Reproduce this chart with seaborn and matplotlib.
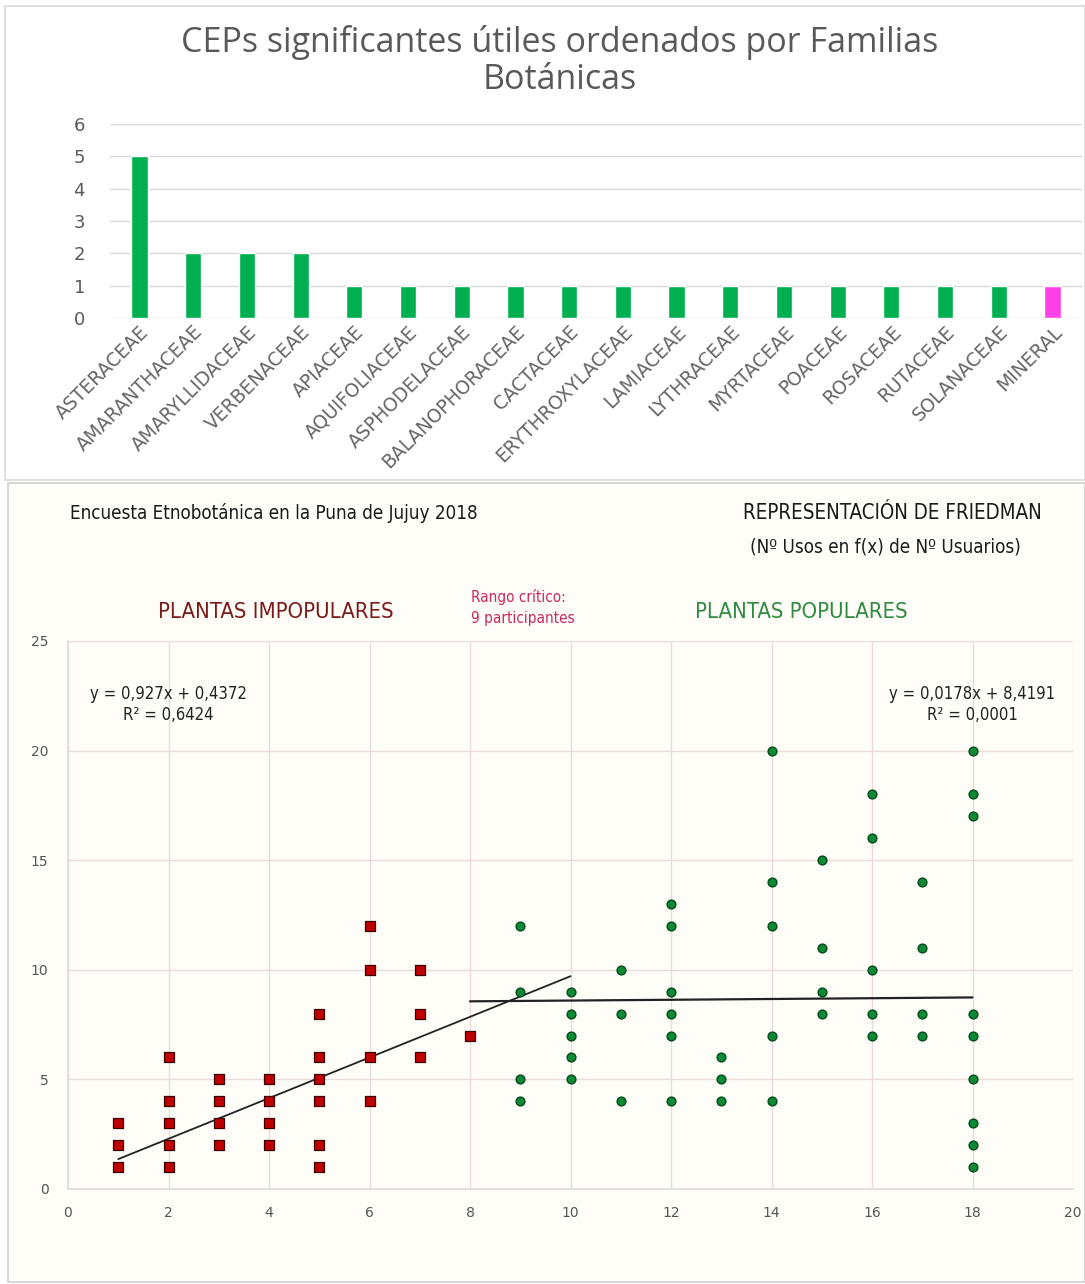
import matplotlib
matplotlib.use("Agg")
import matplotlib.pyplot as plt
import seaborn as sns
import numpy as np
import pandas as pd
from matplotlib.patches import Rectangle

# ---- bar chart data ----
familias = ["ASTERACEAE", "AMARANTHACEAE", "AMARYLLIDACEAE", "VERBENACEAE", "APIACEAE",
            "AQUIFOLIACEAE", "ASPHODELACEAE", "BALANOPHORACEAE", "CACTACEAE",
            "ERYTHROXYLACEAE", "LAMIACEAE", "LYTHRACEAE", "MYRTACEAE", "POACEAE",
            "ROSACEAE", "RUTACEAE", "SOLANACEAE", "MINERAL"]
ceps = [5, 2, 2, 2, 1, 1, 1, 1, 1, 1, 1, 1, 1, 1, 1, 1, 1, 1]
tipo = ["planta"] * 17 + ["mineral"]

# ---- Friedman scatter data (x = Nº usuarios, y = Nº usos) ----
imp_x = [1, 1, 1, 2, 2, 2, 2, 2, 3, 3, 3, 3, 4, 4, 4, 4,
         5, 5, 5, 5, 5, 5, 6, 6, 6, 6, 7, 7, 7, 8]
imp_y = [1, 2, 3, 1, 2, 3, 4, 6, 2, 3, 4, 5, 2, 3, 4, 5,
         1, 2, 4, 5, 6, 8, 4, 6, 10, 12, 6, 8, 10, 7]
pop_x = [9, 9, 9, 9, 10, 10, 10, 10, 10, 11, 11, 11, 12, 12, 12, 12, 12, 12,
         13, 13, 13, 14, 14, 14, 14, 14, 15, 15, 15, 15, 16, 16, 16, 16, 16,
         17, 17, 17, 17, 18, 18, 18, 18, 18, 18, 18, 18, 18]
pop_y = [4, 5, 9, 12, 5, 6, 7, 8, 9, 4, 8, 10, 4, 7, 8, 9, 12, 13,
         4, 5, 6, 4, 7, 12, 14, 20, 8, 9, 11, 15, 7, 8, 10, 16, 18,
         7, 8, 11, 14, 1, 2, 3, 5, 7, 8, 17, 18, 20]

# trend lines as printed on the chart
imp_fit = (0.927, 0.4372, 0.6424)
pop_fit = (0.0178, 8.4191, 0.0001)
imp_range = [1, 10]
pop_range = [8, 18]

sns.set_theme(style="white")
plt.rcParams["font.family"] = ["DejaVu Sans"]

W, H = 1085, 1284
fig = plt.figure(figsize=(W / 100, H / 100), dpi=100)
fig.patch.set_facecolor("white")


def box(l, t, r, b):
    return [l / W, 1 - b / H, (r - l) / W, (b - t) / H]


# panel frames (behind the axes)
fig.patches.append(Rectangle((5 / W, 1 - 480 / H), 1080 / W, 474 / H, transform=fig.transFigure,
                             facecolor="white", edgecolor="#d9d9d9", lw=1.2, zorder=-5))
fig.patches.append(Rectangle((8 / W, 1 - 1282 / H), 1077 / W, 799 / H, transform=fig.transFigure,
                             facecolor="#fffdf8", edgecolor="#d0d0d0", lw=1.2, zorder=-5))

# ---------------- top: bar chart ----------------
ax1 = fig.add_axes(box(110, 124, 1082, 318))
ax1.set_facecolor("none")
df_bar = pd.DataFrame({"familia": familias, "ceps": ceps, "tipo": tipo})
sns.barplot(data=df_bar, x="familia", y="ceps", hue="tipo",
            palette={"planta": "#00b050", "mineral": "#ff40e6"}, saturation=1,
            width=0.3, dodge=False, legend=False, ax=ax1, zorder=3)
ax1.set_ylim(0, 6)
ax1.set_xlim(-0.55, len(familias) - 0.45)
ax1.set_yticks(range(0, 7))
ax1.yaxis.grid(True, color="#d9d9d9", lw=1)
ax1.set_axisbelow(True)
for s in ax1.spines.values():
    s.set_visible(False)
ax1.set_xlabel("")
ax1.set_ylabel("")
ax1.tick_params(axis="y", labelsize=13, colors="#595959", pad=18, length=0)
ax1.tick_params(axis="x", length=0, pad=3)
ax1.set_xticks(range(len(familias)))
ax1.set_xticklabels(familias, rotation=45, ha="right", rotation_mode="anchor",
                    fontsize=13.5, color="#666666")
fig.text(560 / W, 1 - 42 / H, "CEPs significantes útiles ordenados por Familias",
         ha="center", va="center", fontsize=24.5, color="#595959", family="Open Sans")
fig.text(560 / W, 1 - 80 / H, "Botánicas",
         ha="center", va="center", fontsize=24.5, color="#595959", family="Open Sans")

# ---------------- bottom: Friedman scatter ----------------
ax2 = fig.add_axes(box(68, 641, 1073, 1189))
ax2.set_facecolor("#fffdf8")
sns.scatterplot(x=imp_x, y=imp_y, marker="s", s=52, color="#c00000",
                edgecolor="#3a0000", linewidth=0.9, ax=ax2, zorder=4)
sns.scatterplot(x=pop_x, y=pop_y, marker="o", s=40, color="#0b8a35",
                edgecolor="#064a1a", linewidth=1.0, ax=ax2, zorder=4)

xi = np.array(imp_range, dtype=float)
ax2.plot(xi, imp_fit[0] * xi + imp_fit[1], color="#222222", lw=1.3, zorder=3)
xp = np.array(pop_range, dtype=float)
ax2.plot(xp, pop_fit[0] * xp + pop_fit[1], color="#222222", lw=1.6, zorder=3)

ax2.set_xlim(0, 20)
ax2.set_ylim(0, 25)
ax2.set_xticks(range(0, 21, 2))
ax2.set_yticks(range(0, 26, 5))
ax2.grid(True, color="#eadada", lw=1)
ax2.set_axisbelow(True)
for k in ["top", "right"]:
    ax2.spines[k].set_visible(False)
for k in ["left", "bottom"]:
    ax2.spines[k].set_color("#e0dcdc")
    ax2.spines[k].set_linewidth(1.2)
ax2.tick_params(labelsize=10, colors="#555555", length=0)
ax2.tick_params(axis="y", pad=14)
ax2.tick_params(axis="x", pad=12)


def fmt(v, d):
    return f"{v:.{d}f}".replace(".", ",")


narrow = dict(family="DejaVu Sans", stretch="condensed")
ax2.text(2.0, 22.1, f"y = {fmt(imp_fit[0], 3)}x + {fmt(imp_fit[1], 4)}\nR² = {fmt(imp_fit[2], 4)}",
         ha="center", va="center", fontsize=12, color="#222222", linespacing=1.25, **narrow)
ax2.text(18.0, 22.1, f"y = {fmt(pop_fit[0], 4)}x + {fmt(pop_fit[1], 4)}\nR² = {fmt(pop_fit[2], 4)}",
         ha="center", va="center", fontsize=12, color="#222222", linespacing=1.25, **narrow)

fig.text(70 / W, 1 - 513 / H, "Encuesta Etnobotánica en la Puna de Jujuy 2018",
         ha="left", va="center", fontsize=13.5, color="#1a1a1a", **narrow)
fig.text(892 / W, 1 - 513 / H, "REPRESENTACIÓN DE FRIEDMAN",
         ha="center", va="center", fontsize=14.8, color="#1a1a1a", **narrow)
fig.text(885 / W, 1 - 547 / H, "(Nº Usos en f(x) de Nº Usuarios)",
         ha="center", va="center", fontsize=13.5, color="#1a1a1a", **narrow)
fig.text(276 / W, 1 - 612 / H, "PLANTAS IMPOPULARES",
         ha="center", va="center", fontsize=15.8, color="#7a1a1a", **narrow)
fig.text(801 / W, 1 - 612 / H, "PLANTAS POPULARES",
         ha="center", va="center", fontsize=15.8, color="#2e8b40", **narrow)
fig.text(471 / W, 1 - 607 / H, "Rango crítico:\n9 participantes",
         ha="left", va="center", fontsize=11, color="#c8285a", linespacing=1.5, **narrow)

fig.savefig("out.png", dpi=100, facecolor=fig.get_facecolor())
